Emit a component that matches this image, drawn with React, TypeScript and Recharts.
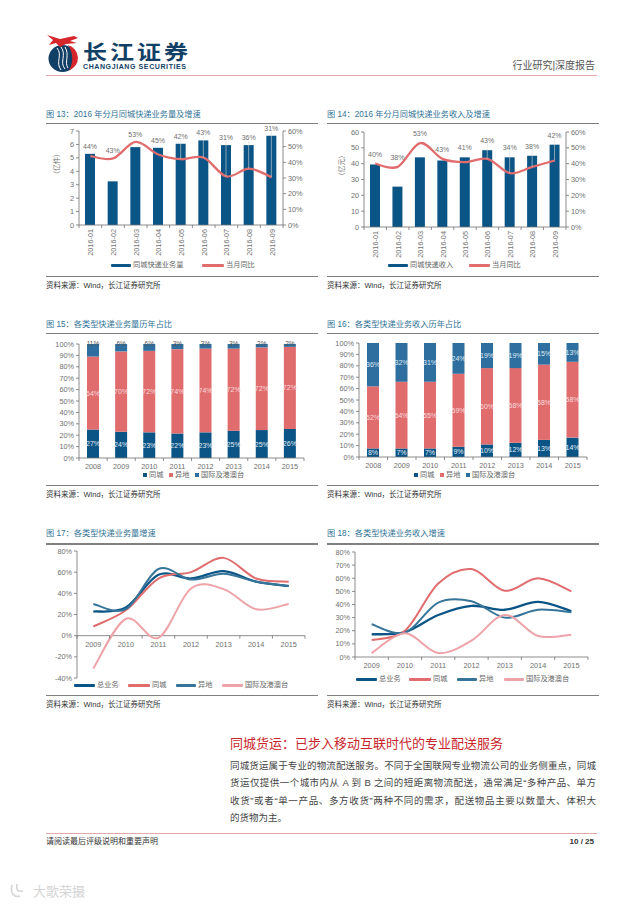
import { Bar, ComposedChart, LabelList, Legend, Line, LineChart, BarChart, ReferenceLine, XAxis, YAxis } from 'recharts';

const FONT = '"Liberation Sans","Noto Sans CJK SC",sans-serif';
const NAVY = '#0b5586';
const RED = '#e06c6e';
const BLUE = '#2f6f9f';
const TEAL = '#36749a';
const PINK = '#eea3a8';
const GREY = '#707070';

const months = ['2016-01', '2016-02', '2016-03', '2016-04', '2016-05', '2016-06', '2016-07', '2016-08', '2016-09'];
const volume = [5.3, 3.25, 5.8, 5.75, 6.05, 6.3, 5.95, 5.95, 6.65];
const volumeGrowth = [44, 42.5, 53, 45, 42, 43, 31, 36, 30.5];
const volumeGrowthLabels = ['44%', '43%', '53%', '45%', '42%', '43%', '31%', '36%', '31%'];
const revenue = [39.5, 25.5, 44, 42, 44, 48.5, 44, 45, 52];
const revenueGrowth = [40, 38, 53, 43, 41, 43, 34, 38, 42];
const revenueGrowthLabels = ['40%', '38%', '53%', '43%', '41%', '43%', '34%', '38%', '42%'];

const shareYears = ['2008', '2009', '2010', '2011', '2012', '2013', '2014', '2015'];
const volLocal = [25, 23, 22.5, 21.5, 22.5, 24, 24.5, 25.5];
const volRemote = [64, 70.5, 71.5, 74, 73.5, 72, 72.5, 72];
const volIntl = [11, 6.5, 6, 4.5, 4, 4, 3, 2.5];
const volLocalLabels = ['27%', '24%', '23%', '22%', '23%', '25%', '25%', '26%'];
const volRemoteLabels = ['64%', '70%', '72%', '74%', '74%', '72%', '72%', '72%'];
const volIntlLabels = ['11%', '6%', '6%', '3%', '3%', '3%', '2%', '2%'];
const revLocal = [7.5, 7.5, 7.5, 9, 11, 12.5, 15, 17];
const revRemote = [54.5, 58.5, 58.5, 64, 67, 65.5, 66, 66.5];
const revIntl = [38, 34, 34, 27, 22, 22, 19, 16.5];
const revLocalLabels = ['8%', '7%', '7%', '9%', '10%', '12%', '13%', '14%'];
const revRemoteLabels = ['52%', '54%', '55%', '59%', '60%', '58%', '58%', '58%'];
const revIntlLabels = ['36%', '32%', '31%', '24%', '19%', '19%', '15%', '13%'];

const growthYears = ['2009', '2010', '2011', '2012', '2013', '2014', '2015'];
const volTotalGrowth = [22.8, 26.5, 57.5, 54, 61, 51, 47];
const volLocalGrowth = [8.7, 24, 54, 60, 73.5, 54, 51];
const volRemoteGrowth = [30, 25, 63, 53, 58.5, 51, 47];
const volIntlGrowth = [-31, 16, -2, 44.5, 44, 25, 30];
const revTotalGrowth = [17.3, 19, 32, 39, 36, 42, 35];
const revLocalGrowth = [13, 20, 56, 67, 50.5, 60, 50];
const revRemoteGrowth = [25, 18.5, 41.5, 42.5, 30, 36, 34];
const revIntlGrowth = [3, 18, 3, 12.5, 32, 16, 17];

const bodyLines = [
  '同城货运属于专业的物流配送服务。不同于全国联网专业物流公司的业务侧重点，同城',
  '货运仅提供一个城市内从 A 到 B 之间的短距离物流配送，通常满足“多种产品、单方',
  '收货”或者“单一产品、多方收货”两种不同的需求，配送物品主要以数量大、体积大',
];

const zip = (cats: string[], cols: Record<string, (number | string)[]>) =>
  cats.map((name, i) => {
    const row: Record<string, number | string> = { name };
    Object.keys(cols).forEach((k) => (row[k] = cols[k][i]));
    return row;
  });

// Excel style smoothed line, passes through the points and overshoots a little
const excelCurve = (ctx: any) => {
  let pts: number[][] = [];
  return {
    areaStart() {},
    areaEnd() {},
    lineStart() {
      pts = [];
    },
    point(x: number, y: number) {
      pts.push([+x, +y]);
    },
    lineEnd() {
      if (!pts.length) return;
      ctx.moveTo(pts[0][0], pts[0][1]);
      for (let i = 0; i < pts.length - 1; i++) {
        const a = pts[Math.max(i - 1, 0)];
        const b = pts[i];
        const c = pts[i + 1];
        const d = pts[Math.min(i + 2, pts.length - 1)];
        ctx.bezierCurveTo(
          b[0] + (c[0] - a[0]) / 6,
          b[1] + (c[1] - a[1]) / 6,
          c[0] - (d[0] - b[0]) / 6,
          c[1] - (d[1] - b[1]) / 6,
          c[0],
          c[1],
        );
      }
    },
  };
};

type Plot = { x: number; y: number; w: number; h: number };
const PAD_X = 40;
const PAD_Y = 12;
const AXIS_W = 30;

const frame = (p: Plot, rightAxis: boolean) => ({
  style: { position: 'absolute' as const, left: p.x - PAD_X, top: p.y - PAD_Y },
  width: p.w + PAD_X * 2,
  height: p.h + PAD_Y + 75,
  margin: { top: PAD_Y, left: PAD_X - AXIS_W, right: rightAxis ? PAD_X - AXIS_W : PAD_X, bottom: 35 },
});

const tickStyle = { fontSize: 7.3, fill: GREY, fontFamily: FONT };

// category tick: label in the band centre, tick marks on the band edges
const bandTick = (p: Plot, count: number, rotate: boolean, lift = 0) => (props: any) => {
  const { x, y, payload, index } = props;
  const band = p.w / count;
  const base = y - lift;
  return (
    <g>
      <line x1={x - band / 2} x2={x - band / 2} y1={base} y2={base + 3} stroke={GREY} strokeWidth={0.8} />
      {index === count - 1 && (
        <line x1={x + band / 2} x2={x + band / 2} y1={base} y2={base + 3} stroke={GREY} strokeWidth={0.8} />
      )}
      {rotate ? (
        <text x={x + 3} y={base + 4} transform={`rotate(-90 ${x + 3} ${base + 4})`} textAnchor="end" {...tickStyle}>
          {payload.value}
        </text>
      ) : (
        <text x={x} y={base + 11} textAnchor="middle" {...tickStyle}>
          {payload.value}
        </text>
      )}
    </g>
  );
};

type LegendItem = { x: number; w?: number };
const legendContent = (p: Plot, y: number, items: LegendItem[], square = false) => (props: any) => (
  <div style={{ position: 'relative', height: 0 }}>
    {(props.payload || []).map((e: any, i: number) => {
      const left = items[i].x - (p.x - PAD_X);
      const top = y - (p.y - PAD_Y);
      const w = items[i].w || 4;
      return (
        <div key={e.value}>
          <div
            style={{
              position: 'absolute',
              left,
              top: square ? top - 2 : top - 1.5,
              width: w,
              height: square ? 4 : 3,
              background: e.color,
              borderRadius: square ? 0 : 1,
            }}
          />
          <div
            style={{
              position: 'absolute',
              left: left + w + 2,
              top: top - 6,
              fontSize: 7.2,
              lineHeight: '12px',
              color: '#666',
              whiteSpace: 'nowrap',
              fontFamily: FONT,
            }}
          >
            {e.value}
          </div>
        </div>
      );
    })}
  </div>
);

// growth label above the bar or the line, with a thin leader line when it is far from the point
const growthLabel = (p: Plot, rateMax: number, labels: string[], rates: number[], gap: number) => (props: any) => {
  const { x, y, width, index } = props;
  const ptY = PAD_Y + p.h - (rates[index] / rateMax) * p.h;
  const labelY = Math.min(ptY, y) - gap;
  const cx = x + width / 2;
  return (
    <g>
      {ptY - labelY > 15 && <line x1={cx} x2={cx} y1={labelY + 4} y2={ptY} stroke="#d8d8d8" strokeWidth={0.6} />}
      <text x={cx} y={labelY + 3} textAnchor="middle" {...tickStyle} fontSize={7}>
        {labels[index]}
      </text>
    </g>
  );
};

const midLabel = (labels: string[], fill: string) => (props: any) => {
  const { x, y, width, height, index } = props;
  return (
    <text x={x + width / 2} y={y + height / 2 + 2.5} textAnchor="middle" fontSize={7} fontFamily={FONT} fill={fill}>
      {labels[index]}
    </text>
  );
};

const topLabel = (labels: string[]) => (props: any) => {
  const { x, y, width, index } = props;
  return (
    <text x={x + width / 2} y={y + 2} textAnchor="middle" fontSize={6.5} fontFamily={FONT} fill="#555">
      {labels[index]}
    </text>
  );
};

const axisLine = { stroke: GREY, strokeWidth: 0.8 };
const tickLine = { stroke: GREY, strokeWidth: 0.8 };
const legendBox = { left: 0, top: 0, width: 0, bottom: 'auto' };

const GrowthBars = ({ plot, unit, max, step, bars, barName, rates, labels, gap, legend, legendY }: any) => {
  const data = zip(months, { bars, rates });
  const leftTicks: number[] = [];
  for (let v = 0; v <= max; v += step) leftTicks.push(v);
  return (
    <ComposedChart {...frame(plot, true)} data={data}>
      <XAxis
        dataKey="name"
        interval={0}
        height={40}
        axisLine={axisLine}
        tickLine={false}
        tickSize={0}
        tickMargin={0}
        tick={bandTick(plot, months.length, true)}
      />
      <YAxis
        yAxisId="l"
        width={AXIS_W}
        domain={[0, max]}
        ticks={leftTicks}
        interval={0}
        axisLine={axisLine}
        tickLine={tickLine}
        tickSize={3}
        tick={tickStyle}
        label={{ value: unit, angle: -90, position: 'insideLeft', offset: 8, style: { ...tickStyle, fontSize: 7 } }}
      />
      <YAxis
        yAxisId="r"
        orientation="right"
        width={AXIS_W}
        domain={[0, 60]}
        ticks={[0, 10, 20, 30, 40, 50, 60]}
        interval={0}
        tickFormatter={(v: number) => `${v}%`}
        axisLine={axisLine}
        tickLine={tickLine}
        tickSize={3}
        tick={tickStyle}
      />
      <Legend itemSorter={null} wrapperStyle={legendBox} content={legendContent(plot, legendY, legend)} />
      <Bar yAxisId="l" dataKey="bars" name={barName} fill={NAVY} barSize={10} isAnimationActive={false}>
        <LabelList dataKey="bars" content={growthLabel(plot, 60, labels, rates, gap)} />
      </Bar>
      <Line
        yAxisId="r"
        dataKey="rates"
        name="当月同比"
        type={excelCurve as any}
        stroke={RED}
        strokeWidth={2.3}
        dot={false}
        isAnimationActive={false}
      />
    </ComposedChart>
  );
};

const ShareBars = ({ plot, a, b, c, la, lb, lc, topOutside, legend, legendY }: any) => {
  const data = zip(shareYears, { a, b, c });
  return (
    <BarChart {...frame(plot, false)} data={data}>
      <XAxis
        dataKey="name"
        interval={0}
        height={40}
        axisLine={axisLine}
        tickLine={false}
        tickSize={0}
        tickMargin={0}
        tick={bandTick(plot, shareYears.length, false)}
      />
      <YAxis
        width={AXIS_W}
        domain={[0, 100]}
        ticks={[0, 10, 20, 30, 40, 50, 60, 70, 80, 90, 100]}
        interval={0}
        tickFormatter={(v: number) => `${v}%`}
        axisLine={axisLine}
        tickLine={tickLine}
        tickSize={3}
        tick={tickStyle}
      />
      <Legend itemSorter={null} wrapperStyle={legendBox} content={legendContent(plot, legendY, legend, true)} />
      <Bar dataKey="a" name="同城" stackId="s" fill={NAVY} barSize={12} isAnimationActive={false}>
        <LabelList dataKey="a" content={midLabel(la, '#e4ecf3')} />
      </Bar>
      <Bar dataKey="b" name="异地" stackId="s" fill={RED} barSize={12} isAnimationActive={false}>
        <LabelList dataKey="b" content={midLabel(lb, '#f8dede')} />
      </Bar>
      <Bar dataKey="c" name="国际及港澳台" stackId="s" fill={BLUE} barSize={12} isAnimationActive={false}>
        <LabelList dataKey="c" content={topOutside ? topLabel(lc) : midLabel(lc, '#dfe9f1')} />
      </Bar>
    </BarChart>
  );
};

const GrowthLines = ({ plot, total, local, remote, intl, min, max, ticks, legend, legendY }: any) => {
  const data = zip(growthYears, { total, local, remote, intl });
  const lift = min < 0 ? (-min / (max - min)) * plot.h : 0;
  const line = (key: string, name: string, color: string, width: number) => (
    <Line
      dataKey={key}
      name={name}
      type={excelCurve as any}
      stroke={color}
      strokeWidth={width}
      dot={false}
      isAnimationActive={false}
    />
  );
  return (
    <LineChart {...frame(plot, false)} data={data}>
      <XAxis
        dataKey="name"
        scale="band"
        interval={0}
        height={40}
        axisLine={min < 0 ? false : axisLine}
        tickLine={false}
        tickSize={0}
        tickMargin={0}
        tick={bandTick(plot, growthYears.length, false, lift)}
      />
      <YAxis
        width={AXIS_W}
        domain={[min, max]}
        ticks={ticks}
        interval={0}
        tickFormatter={(v: number) => `${v}%`}
        axisLine={axisLine}
        tickLine={tickLine}
        tickSize={3}
        tick={tickStyle}
      />
      {min < 0 && <ReferenceLine y={0} stroke={GREY} strokeWidth={0.8} />}
      <Legend itemSorter={null} wrapperStyle={legendBox} content={legendContent(plot, legendY, legend)} />
      {line('total', '总业务', NAVY, 2.3)}
      {line('local', '同城', RED, 2)}
      {line('remote', '异地', TEAL, 2)}
      {line('intl', '国际及港澳台', PINK, 2)}
    </LineChart>
  );
};

const Panel = ({ x, title, titleY, ruleY, footY, ruleH = 1 }: any) => (
  <>
    <div style={{ position: 'absolute', left: x, top: titleY - 7, fontSize: 8.2, lineHeight: '14px', color: '#2f7296', whiteSpace: 'nowrap' }}>
      {title}
    </div>
    <div style={{ position: 'absolute', left: x, top: ruleY, width: 272, height: ruleH, background: '#808080' }} />
    <div style={{ position: 'absolute', left: x, top: footY, width: 272, height: 1, background: '#808080' }} />
    <div style={{ position: 'absolute', left: x, top: footY + 3, fontSize: 7.5, lineHeight: '14px', color: '#333', whiteSpace: 'nowrap' }}>
      资料来源：Wind，长江证券研究所
    </div>
  </>
);

const Logo = () => (
  <svg style={{ position: 'absolute', left: 44, top: 32 }} width={40} height={44}>
    <ellipse cx={18.5} cy={26.5} rx={14} ry={13.5} fill="#123f66" />
    <path d="M24 13 A14 13.5 0 0 1 25 38.5 C30 30 29 20 24 13 Z" fill="#d6262c" />
    <path d="M13 16 C19 23 11 30 17 38 M17 15 C23 23 15 30 21 37 M21 15 C26 23 20 30 24 36" stroke="#fff" strokeWidth={1} fill="none" />
    <path d="M3 3 L16 7 L30 4 L34 6 L26 9 L33 11 L22 12 L16 15 L12 11 L5 13 L9 8 Z" fill="#d6262c" />
  </svg>
);

const plot13 = { x: 79, y: 131, w: 204, h: 94 };
const plot14 = { x: 364, y: 132, w: 202, h: 95 };
const plot15 = { x: 79, y: 344, w: 225, h: 114 };
const plot16 = { x: 359, y: 343, w: 228, h: 114 };
const plot17 = { x: 77, y: 551, w: 228, h: 127 };
const plot18 = { x: 355, y: 552, w: 233, h: 105 };

export default function App() {
  return (
    <div style={{ position: 'absolute', left: 0, top: 0, width: 640, height: 905, background: '#fff', overflow: 'hidden', fontFamily: FONT }}>
      <Logo />
      <div style={{ position: 'absolute', left: 83, top: 41, fontSize: 24, lineHeight: '20px', height: 20, fontWeight: 700, letterSpacing: 3, color: '#123f66', fontFamily: '"Noto Sans CJK SC",sans-serif', whiteSpace: 'nowrap', transform: 'scaleY(0.85)' }}>
        长江证券
      </div>
      <div style={{ position: 'absolute', left: 83, top: 62, fontSize: 7, lineHeight: '9px', fontWeight: 700, letterSpacing: 0.6, color: '#123f66', whiteSpace: 'nowrap' }}>
        CHANGJIANG SECURITIES
      </div>
      <div style={{ position: 'absolute', right: 45, top: 59, fontSize: 10, lineHeight: '14px', color: '#555', whiteSpace: 'nowrap' }}>
        行业研究|深度报告
      </div>
      <div style={{ position: 'absolute', left: 46, top: 75, width: 551, height: 1, background: '#e3a9a9' }} />

      <Panel x={46} title="图 13：2016 年分月同城快递业务量及增速" titleY={115} ruleY={123} footY={276} />
      <Panel x={327} title="图 14：2016 年分月同城快递业务收入及增速" titleY={115} ruleY={123} footY={276} />
      <Panel x={46} title="图 15：各类型快递业务量历年占比" titleY={325} ruleY={333} footY={485} />
      <Panel x={327} title="图 16：各类型快递业务收入历年占比" titleY={325} ruleY={333} footY={485} />
      <Panel x={46} title="图 17：各类型快递业务量增速" titleY={534} ruleY={543} ruleH={1.5} footY={695} />
      <Panel x={327} title="图 18：各类型快递业务收入增速" titleY={534} ruleY={543} ruleH={1.5} footY={695} />

      <GrowthBars
        plot={plot13}
        unit="（亿件）"
        max={7}
        step={1}
        bars={volume}
        barName="同城快递业务量"
        rates={volumeGrowth}
        labels={volumeGrowthLabels}
        gap={8}
        legendY={265}
        legend={[{ x: 111, w: 20 }, { x: 202, w: 22 }]}
      />
      <GrowthBars
        plot={plot14}
        unit="（亿元）"
        max={60}
        step={10}
        bars={revenue}
        barName="同城快递收入"
        rates={revenueGrowth}
        labels={revenueGrowthLabels}
        gap={10}
        legendY={265}
        legend={[{ x: 388, w: 20 }, { x: 469, w: 21 }]}
      />
      <ShareBars
        plot={plot15}
        a={volLocal}
        b={volRemote}
        c={volIntl}
        la={volLocalLabels}
        lb={volRemoteLabels}
        lc={volIntlLabels}
        topOutside
        legendY={475}
        legend={[{ x: 143 }, { x: 169 }, { x: 195 }]}
      />
      <ShareBars
        plot={plot16}
        a={revLocal}
        b={revRemote}
        c={revIntl}
        la={revLocalLabels}
        lb={revRemoteLabels}
        lc={revIntlLabels}
        legendY={475}
        legend={[{ x: 414 }, { x: 440 }, { x: 466 }]}
      />
      <GrowthLines
        plot={plot17}
        total={volTotalGrowth}
        local={volLocalGrowth}
        remote={volRemoteGrowth}
        intl={volIntlGrowth}
        min={-40}
        max={80}
        ticks={[-40, -20, 0, 20, 40, 60, 80]}
        legendY={685}
        legend={[{ x: 74, w: 21 }, { x: 128, w: 22 }, { x: 176, w: 20 }, { x: 222, w: 21 }]}
      />
      <GrowthLines
        plot={plot18}
        total={revTotalGrowth}
        local={revLocalGrowth}
        remote={revRemoteGrowth}
        intl={revIntlGrowth}
        min={0}
        max={80}
        ticks={[0, 10, 20, 30, 40, 50, 60, 70, 80]}
        legendY={679}
        legend={[{ x: 356, w: 21 }, { x: 409, w: 22 }, { x: 457, w: 20 }, { x: 504, w: 20 }]}
      />

      <div style={{ position: 'absolute', left: 230, top: 736, fontSize: 13, lineHeight: '16px', color: '#c8262c', whiteSpace: 'nowrap' }}>
        同城货运：已步入移动互联时代的专业配送服务
      </div>
      {bodyLines.map((t, i) => (
        <div
          key={t}
          style={{ position: 'absolute', left: 230, top: 759 + i * 17.3, width: 366, fontSize: 9.5, lineHeight: '14px', color: '#444', textAlign: 'justify', textAlignLast: 'justify', whiteSpace: 'nowrap' }}
        >
          {t}
        </div>
      ))}
      <div style={{ position: 'absolute', left: 230, top: 811, fontSize: 9.5, lineHeight: '14px', color: '#444' }}>的货物为主。</div>
      <div style={{ position: 'absolute', left: 46, top: 833, width: 551, height: 1, background: '#e3a9a9' }} />
      <div style={{ position: 'absolute', left: 46, top: 836, fontSize: 8, lineHeight: '12px', color: '#333' }}>请阅读最后评级说明和重要声明</div>
      <div style={{ position: 'absolute', right: 46, top: 836, fontSize: 8, lineHeight: '12px', fontWeight: 700, color: '#333' }}>10 / 25</div>
      <svg style={{ position: 'absolute', left: 8, top: 881 }} width={20} height={20}>
        <path d="M4 4 C2 12 6 17 12 15 M9 3 C8 9 10 11 15 10" stroke="#d6d6d6" strokeWidth={1.6} fill="none" />
      </svg>
      <div style={{ position: 'absolute', left: 33, top: 884, fontSize: 13, lineHeight: '16px', color: '#d4d4d4', whiteSpace: 'nowrap' }}>大歌荣摄</div>
    </div>
  );
}
